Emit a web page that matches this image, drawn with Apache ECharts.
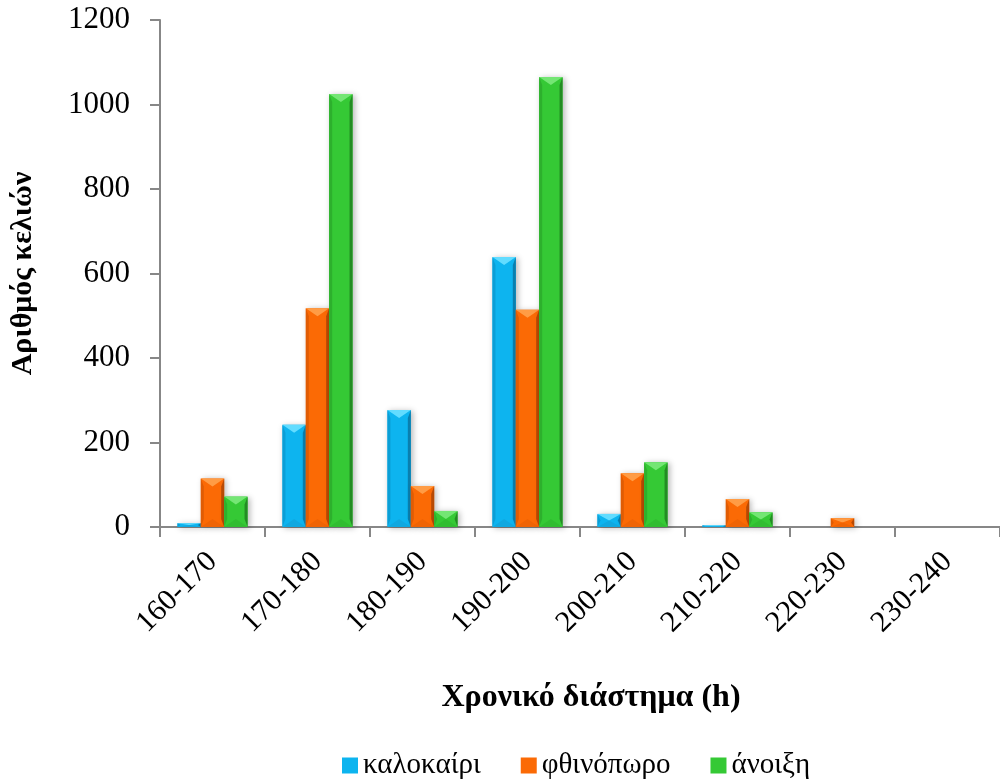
<!DOCTYPE html>
<html><head><meta charset="utf-8">
<script src="https://cdn.jsdelivr.net/npm/echarts@6/dist/echarts.min.js"></script>
<style>html,body{margin:0;padding:0;background:#fff}#c{width:1000px;height:780px}</style>
</head><body><div id="c"></div>
<script>
const categories = ['160-170','170-180','180-190','190-200','200-210','210-220','220-230','230-240'];
const summer = [9, 242, 277, 639, 31, 4, 0, 0];
const autumn = [115, 518, 97, 514, 127, 66, 21, 0];
const spring = [72, 1025, 38, 1065, 153, 35, 0, 0];
const yTicks = [0, 200, 400, 600, 800, 1000, 1200];

const font = '"Liberation Serif","Times New Roman",serif';

function makeRender(slot, c) {
  return function (params, api) {
    const v = api.value(1);
    if (!v) return null;
    const catW = api.size([1, 0])[0];
    const w = catW * 0.2225;
    const base = api.coord([api.value(0), 0]);
    const top = api.coord([api.value(0), v]);
    const x = base[0] + (slot - 1) * w - w / 2;
    const y = top[1], h = base[1] - top[1];
    const d = Math.min(8, h / 2);
    const s = Math.min(3, w / 6);
    return {
      type: 'group',
      children: [
        {type:'rect', shape:{x, y, width:w, height:h},
          style:{fill:c.mid, shadowColor:'rgba(0,0,0,0.28)', shadowBlur:6, shadowOffsetX:2, shadowOffsetY:1}},
        {type:'polygon', shape:{points:[[x,y],[x+s,y+d],[x+s,y+h-d],[x,y+h]]}, style:{fill:c.side}},
        {type:'polygon', shape:{points:[[x+w,y],[x+w-s,y+d],[x+w-s,y+h-d],[x+w,y+h]]}, style:{fill:c.dark}},
        {type:'polygon', shape:{points:[[x,y],[x+w,y],[x+w/2,y+d]]}, style:{fill:c.light}},
        {type:'polygon', shape:{points:[[x,y+h],[x+w,y+h],[x+w/2,y+h-d]]}, style:{fill:c.bottom}}
      ]
    };
  };
}
function ser(name, values, slot, c) {
  return {
    name, type:'custom', renderItem: makeRender(slot, c),
    data: values.map((v, i) => [i, v]),
    encode:{x:0, y:1},
    itemStyle:{color:c.mid},
    emphasis:{disabled:true}
  };
}
const blue = {mid:'#0db4ef', side:'#0a9ed6', dark:'#0a7fae', light:'#62dcff', bottom:'#10a8e0'};
const orange = {mid:'#fb6a05', side:'#e05c04', dark:'#b84a04', light:'#ff9c45', bottom:'#ef6405'};
const green = {mid:'#35c935', side:'#2db02d', dark:'#238c23', light:'#74e674', bottom:'#31bd31'};

const chart = echarts.init(document.getElementById('c'), null, {renderer:'canvas'});
chart.setOption({
  animation:false,
  backgroundColor:'#fff',
  grid:{left:160, top:20, width:846, height:507, containLabel:false},
  legend:{
    top:746, left:337, itemWidth:16, itemHeight:16, itemGap:40,
    icon:'rect',
    textStyle:{fontFamily:font, fontSize:29, color:'#000'},
    data:['καλοκαίρι','φθινόπωρο','άνοιξη']
  },
  xAxis:{
    type:'category', data:categories,
    name:'Χρονικό διάστημα (h)', nameLocation:'middle', nameGap:155,
    nameTextStyle:{fontFamily:font, fontSize:32, fontWeight:'bold', color:'#000', padding:[0,0,0,22]},
    axisLine:{lineStyle:{color:'#878787', width:2}},
    axisTick:{show:true, alignWithLabel:false, length:10, lineStyle:{color:'#878787', width:2}},
    axisLabel:{rotate:45, fontFamily:font, fontSize:30, color:'#000', margin:30, interval:0}
  },
  yAxis:{
    type:'value', min:0, max:1200, interval:200,
    name:'Αριθμός κελιών', nameLocation:'middle', nameGap:122, nameRotate:90,
    nameTextStyle:{fontFamily:font, fontSize:30, fontWeight:'bold', color:'#000'},
    axisLine:{show:true, lineStyle:{color:'#878787', width:2}},
    axisTick:{show:true, length:10, lineStyle:{color:'#878787', width:2}},
    splitLine:{show:false},
    axisLabel:{fontFamily:font, fontSize:31, color:'#000', margin:30,
      formatter:v => yTicks.includes(v) ? String(v) : ''}
  },
  series:[
    ser('καλοκαίρι', summer, 0, blue),
    ser('φθινόπωρο', autumn, 1, orange),
    ser('άνοιξη', spring, 2, green)
  ]
});
</script></body></html>
